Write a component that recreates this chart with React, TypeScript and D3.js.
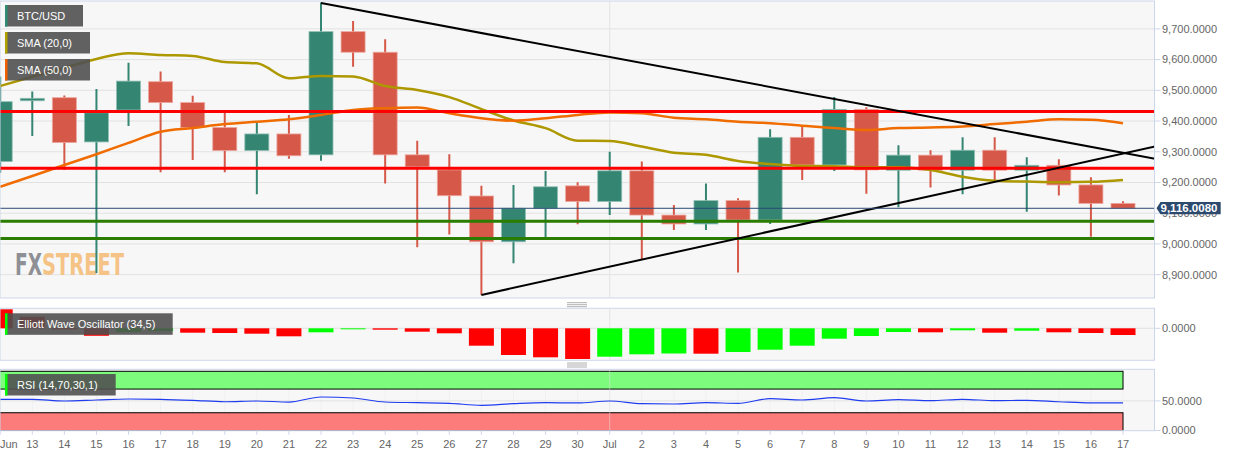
import React from "react";
import * as d3 from "d3";

// ---------- DATA ----------
const dates = [
  "2019-06-12","2019-06-13","2019-06-14","2019-06-15","2019-06-16","2019-06-17","2019-06-18","2019-06-19",
  "2019-06-20","2019-06-21","2019-06-22","2019-06-23","2019-06-24","2019-06-25","2019-06-26","2019-06-27",
  "2019-06-28","2019-06-29","2019-06-30","2019-07-01","2019-07-02","2019-07-03","2019-07-04","2019-07-05",
  "2019-07-06","2019-07-07","2019-07-08","2019-07-09","2019-07-10","2019-07-11","2019-07-12","2019-07-13",
  "2019-07-14","2019-07-15","2019-07-16","2019-07-17",
];
const dayLabels = [
  "Jun","13","14","15","16","17","18","19","20","21","22","23","24","25","26","27","28","29","30",
  "Jul","2","3","4","5","6","7","8","9","10","11","12","13","14","15","16","17",
];
const openV = [9268,9466,9476,9332,9436,9528,9460,9379,9304,9358,9290,9691,9624,9290,9241,9156,9007,9116,9189,9138,9238,9094,9065,9141,9078,9347,9257,9438,9240,9289,9240,9305,9240,9256,9192,9132];
const highV = [9545,9496,9483,9504,9590,9561,9482,9427,9395,9420,9786,9726,9666,9336,9292,9189,9192,9237,9201,9300,9268,9127,9197,9149,9373,9384,9478,9445,9321,9305,9347,9347,9282,9276,9217,9139];
const lowV = [9232,9351,9241,8905,9384,9233,9273,9233,9162,9277,9271,9577,9197,8989,9031,8834,8937,9021,9064,9094,8948,9045,9045,8907,9065,9208,9237,9163,9119,9184,9162,9208,9105,9158,9023,9116];
const closeV = [9463,9474,9330,9427,9530,9460,9379,9304,9358,9287,9691,9624,9290,9251,9157,9007,9116,9186,9138,9238,9094,9065,9141,9078,9347,9257,9438,9241,9289,9240,9305,9240,9256,9192,9132,9116.008];
const sma20 = [9514,9544,9573,9602,9621,9615,9612,9592,9588,9539,9547,9545,9514,9501,9478,9439,9402,9377,9336,9335,9317,9297,9290,9270,9260,9254,9253,9250,9250,9241,9219,9206,9203,9201,9202,9208];
const sma50 = [9186,9221,9257,9292,9329,9365,9377,9390,9398,9406,9420,9436,9442,9444,9425,9409,9401,9409,9420,9428,9425,9411,9406,9398,9393,9385,9377,9371,9377,9379,9382,9390,9398,9406,9404,9393];
const ewo = [190,115,-10,-75,-37,-27,-44,-47,-54,-80,-40,-7,-14,-34,-50,-174,-267,-290,-307,-284,-260,-252,-254,-237,-214,-174,-104,-77,-37,-40,-20,-44,-24,-40,-47,-67];
const ewoPrev = 230;
const rsi = [52.7,52.7,49.8,51.5,53.2,52.7,51,48.6,49.8,48.1,56.6,54.9,48.1,47,45.9,42.6,45.3,47,46.5,49.8,45.3,44.8,47,45.9,53.7,51.5,55.4,49.8,52,50.3,52.7,50.3,51,48.6,46.5,46.5];
const resistanceLevels = [9431, 9246];
const supportLevels = [9074, 9018];
const upperTrend: [number, number][] = [[10, 9784], [36, 9277]];
const lowerTrend: [number, number][] = [[15, 8834], [36, 9317]];
const lastPrice = 9116.008;
const priceTicks = [9700, 9600, 9500, 9400, 9300, 9200, 9100, 9000, 8900];
const rsiTicks = [50, 0];
const ewoTicks = [0];
const legendItems = [
  { label: "BTC/USD", color: "#2e8b74", w: 78 },
  { label: "SMA (20,0)", color: "#b0a000", w: 85 },
  { label: "SMA (50,0)", color: "#f06000", w: 85 },
];

// ---------- LAYOUT ----------
const W = 1244, H = 457;
const PL = 0, PR = 1154.5;
const main = { top: 1, bottom: 298 };
const ewoP = { top: 308.3, bottom: 360.3 };
const rsiP = { top: 369.3, bottom: 430.7 };
const fmt = d3.format(",.4f");
const FONT = "'Liberation Sans', Arial, Helvetica, sans-serif";

export default function App() {
  const x = d3.scaleLinear().domain([0, 35]).range([0.2, 1123]);
  const y = d3.scaleLinear().domain([8824, 9794]).range([main.bottom, 0]);
  const ye = d3.scaleLinear().domain([-320, 200]).range([ewoP.bottom, ewoP.top]);
  const yr = d3.scaleLinear().domain([0, 100]).range([430.5, 371.3]);
  const bw = 24;
  const idx = d3.range(dates.length);
  const line = (vals: number[], ys: d3.ScaleLinear<number, number>) =>
    d3.line<number>().x((_, i) => x(i)).y((v) => ys(v)).curve(d3.curveMonotoneX)(vals) || "";
  const julIdx = dayLabels.indexOf("Jul");
  const handle = (yy: number) => (
    <g stroke="#999" strokeWidth={0.8}>
      {[0, 2, 4].map((d) => (
        <line key={d} x1={567} x2={587} y1={yy + d} y2={yy + d} />
      ))}
    </g>
  );

  return (
    <svg width={W} height={H} style={{ position: "absolute", left: 0, top: 0, background: "#fff" }} fontFamily={FONT}>
      <defs>
        <clipPath id="clipMain"><rect x={PL} y={main.top} width={PR - PL} height={main.bottom - main.top} /></clipPath>
        <clipPath id="clipEwo"><rect x={PL} y={ewoP.top} width={PR - PL} height={ewoP.bottom - ewoP.top} /></clipPath>
        <clipPath id="clipRsi"><rect x={PL} y={rsiP.top} width={PR - PL} height={rsiP.bottom - rsiP.top} /></clipPath>
      </defs>

      {/* MAIN PANEL */}
      <rect x={PL} y={main.top} width={PR - PL} height={main.bottom - main.top} fill="#f7f7f7" />
      <g clipPath="url(#clipMain)">
        {priceTicks.map((t) => (
          <line key={t} x1={PL} x2={PR} y1={y(t)} y2={y(t)} stroke="#e2e2e2" strokeWidth={1} />
        ))}
        <line x1={x(julIdx)} x2={x(julIdx)} y1={main.top} y2={main.bottom} stroke="#e4e4e4" />
        <text x={15} y={275} fontFamily="'Liberation Sans Narrow','DejaVu Sans Condensed',sans-serif" fontWeight="bold" fontSize={30} fill="#8e9095" textLength={27} lengthAdjust="spacingAndGlyphs">FX</text>
        <text x={42} y={275} fontFamily="'Liberation Sans Narrow','DejaVu Sans Condensed',sans-serif" fontWeight="bold" fontSize={30} fill="#f4c385" textLength={82} lengthAdjust="spacingAndGlyphs">STREET</text>
        {idx.map((i) => {
          const up = closeV[i] >= openV[i];
          const c = up ? "#348572" : "#d65848";
          const top = y(Math.max(openV[i], closeV[i]));
          const bot = y(Math.min(openV[i], closeV[i]));
          return (
            <g key={i}>
              <line x1={x(i)} x2={x(i)} y1={y(highV[i])} y2={y(lowV[i])} stroke={c} strokeWidth={2} />
              <rect x={x(i) - bw / 2} y={top} width={bw} height={Math.max(1.5, bot - top)} fill={c} stroke={up ? "#8fbfb3" : "#eca69d"} strokeWidth={0.8} />
            </g>
          );
        })}
        <path d={line(sma20, y)} fill="none" stroke="#ad9800" strokeWidth={2.5} />
        <path d={line(sma50, y)} fill="none" stroke="#f06c00" strokeWidth={2.5} />
        {resistanceLevels.map((v) => (
          <line key={v} x1={PL} x2={PR} y1={y(v)} y2={y(v)} stroke="#ff0000" strokeWidth={3} />
        ))}
        {supportLevels.map((v) => (
          <line key={v} x1={PL} x2={PR} y1={y(v)} y2={y(v)} stroke="#2a7d00" strokeWidth={3} />
        ))}
        {[upperTrend, lowerTrend].map((tl, k) => (
          <line key={k} x1={x(tl[0][0])} y1={y(tl[0][1])} x2={x(tl[1][0])} y2={y(tl[1][1])} stroke="#000" strokeWidth={2} />
        ))}
        <line x1={PL} x2={PR} y1={y(lastPrice)} y2={y(lastPrice)} stroke="#2b4a75" strokeWidth={1} />
      </g>
      <rect x={PL} y={main.top} width={PR - PL} height={main.bottom - main.top} fill="none" stroke="#ccd6eb" />
      {priceTicks.map((t) => (
        <g key={t}>
          <line x1={PR} x2={PR + 6} y1={y(t)} y2={y(t)} stroke="#ccd6eb" />
          <text x={PR + 7.5} y={y(t)} dy="0.35em" fontSize={11} fill="#666">{fmt(t)}</text>
        </g>
      ))}
      {/* price badge */}
      <g>
        <path d={`M${PR + 2},${y(lastPrice)} L${PR + 6},${y(lastPrice) - 6.3} H${1220.7} V${y(lastPrice) + 6} H${PR + 6} Z`} fill="#2c4a6e" />
        <text x={1189} y={y(lastPrice)} dy="0.36em" textAnchor="middle" fontSize={11.5} fontWeight="bold" fill="#fff">{fmt(lastPrice)}</text>
      </g>
      {/* legends */}
      {legendItems.map((l, i) => (
        <g key={l.label} transform={`translate(5, ${5 + i * 27})`}>
          <rect width={l.w} height={21.5} fill="rgba(80,80,80,0.9)" />
          <rect width={2.5} height={21.5} fill={l.color} />
          <text x={12} y={11} dy="0.36em" fontSize={11} fill="#fff">{l.label}</text>
        </g>
      ))}

      {handle(302.7)}

      {/* EWO PANEL */}
      <rect x={PL} y={ewoP.top} width={PR - PL} height={ewoP.bottom - ewoP.top} fill="#f7f7f7" />
      <g clipPath="url(#clipEwo)">
        <line x1={PL} x2={PR} y1={ye(0)} y2={ye(0)} stroke="#e2e2e2" />
        <line x1={x(julIdx)} x2={x(julIdx)} y1={ewoP.top} y2={ewoP.bottom} stroke="#e4e4e4" />
        {idx.map((i) => {
          const prev = i === 0 ? ewoPrev : ewo[i - 1];
          const c = ewo[i] > prev ? "#00ff00" : "#ff0000";
          const y0 = ye(Math.max(0, ewo[i]));
          const y1 = ye(Math.min(0, ewo[i]));
          return <rect key={i} x={x(i) - 12.5} y={y0} width={25} height={Math.max(1, y1 - y0)} fill={c} />;
        })}
      </g>
      <rect x={PL} y={ewoP.top} width={PR - PL} height={ewoP.bottom - ewoP.top} fill="none" stroke="#ccd6eb" />
      {ewoTicks.map((t) => (
        <g key={t}>
          <line x1={PR} x2={PR + 6} y1={ye(t)} y2={ye(t)} stroke="#ccd6eb" />
          <text x={PR + 7.5} y={ye(t)} dy="0.35em" fontSize={11} fill="#666">{fmt(t)}</text>
        </g>
      ))}
      <g transform="translate(5, 313.3)">
        <rect width={167.7} height={21.5} fill="rgba(80,80,80,0.9)" />
        <rect width={2.5} height={21.5} fill="#00ff00" />
        <text x={12} y={11} dy="0.36em" fontSize={11} fill="#fff">Elliott Wave Oscillator (34,5)</text>
      </g>

      {handle(363)}

      {/* RSI PANEL */}
      <rect x={PL} y={rsiP.top} width={PR - PL} height={rsiP.bottom - rsiP.top} fill="#f7f7f7" />
      <g clipPath="url(#clipRsi)">
        {idx.map((i) => (
          <line key={i} x1={x(i)} x2={x(i)} y1={rsiP.top} y2={rsiP.bottom} stroke="#f0f0f0" />
        ))}
        <line x1={PL} x2={PR} y1={yr(50)} y2={yr(50)} stroke="#e2e2e2" />
        <rect x={-1} y={yr(100)} width={x(35) + 1} height={yr(70) - yr(100)} fill="#7dfb7d" stroke="#000" strokeWidth={1} />
        <rect x={-1} y={yr(30)} width={x(35) + 1} height={yr(0) - yr(30)} fill="#fc7b7b" stroke="#000" strokeWidth={1} />
        <line x1={x(julIdx)} x2={x(julIdx)} y1={rsiP.top} y2={rsiP.bottom} stroke="#e4e4e4" strokeOpacity={0.5} />
        <path d={line(rsi, yr)} fill="none" stroke="#1f3cf0" strokeWidth={1.2} />
      </g>
      <rect x={PL} y={rsiP.top} width={PR - PL} height={rsiP.bottom - rsiP.top} fill="none" stroke="#ccd6eb" />
      {rsiTicks.map((t) => (
        <g key={t}>
          <line x1={PR} x2={PR + 6} y1={yr(t)} y2={yr(t)} stroke="#ccd6eb" />
          <text x={PR + 7.5} y={yr(t)} dy="0.35em" fontSize={11} fill="#666">{fmt(t)}</text>
        </g>
      ))}
      <g transform="translate(5, 374)">
        <rect width={110.7} height={21.5} fill="rgba(80,80,80,0.9)" />
        <rect width={2.5} height={21.5} fill="#00ff00" />
        <text x={12} y={11} dy="0.36em" fontSize={11} fill="#fff">RSI (14,70,30,1)</text>
      </g>

      {/* X AXIS */}
      {idx.map((i) => (
        <g key={i}>
          <line x1={x(i)} x2={x(i)} y1={rsiP.bottom} y2={rsiP.bottom + 4} stroke="#ccd6eb" />
          <text x={i === 0 ? 0 : x(i)} y={444} dy="0.35em" textAnchor={i === 0 ? "start" : "middle"} fontSize={11} fill="#666">
            {dayLabels[i]}
          </text>
        </g>
      ))}
    </svg>
  );
}
